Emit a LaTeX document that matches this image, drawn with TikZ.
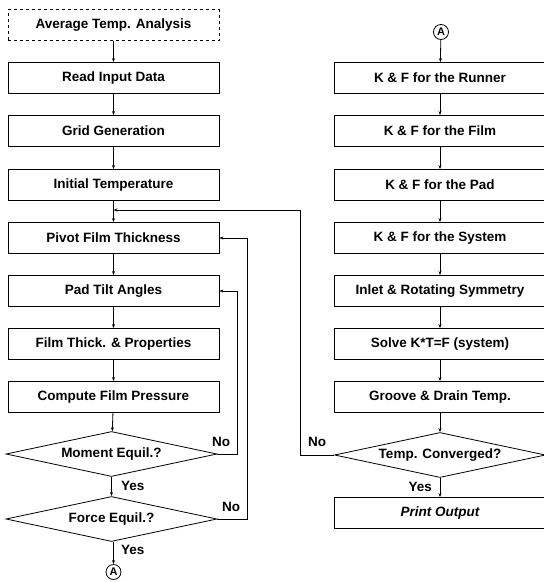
\documentclass[tikz,border=0pt]{standalone}
\usepackage{fontspec}
\setmainfont{Liberation Sans}
\usetikzlibrary{arrows.meta,positioning,shapes.geometric}

\begin{document}
\begin{tikzpicture}[x=1pt,y=-1pt,
    font=\fontsize{13.5}{16}\selectfont\bfseries,
    procbox/.style={draw, thick, minimum width=211pt, minimum height=31pt, inner sep=0pt},
    dashbox/.style={procbox, dashed},
    decision/.style={draw, thick, diamond, shape aspect=4.7, minimum width=211pt, minimum height=45pt, inner sep=0pt},
    connector/.style={draw, thick, circle, minimum size=15pt, inner sep=0pt, font=\fontsize{11}{12}\selectfont\bfseries},
    conn/.style={-{Stealth[length=4pt,width=3pt]}},
    lbl/.style={inner sep=0pt}]
    \useasboundingbox (0,0) rectangle (544,582);
    % left column
    \node[dashbox]  (avg)     at (113.5,25)  {Average Temp. Analysis};
    \node[procbox]  (read)    at (113.5,78)  {Read Input Data};
    \node[procbox]  (grid)    at (113.5,131) {Grid Generation};
    \node[procbox]  (init)    at (113.5,185) {Initial Temperature};
    \node[procbox]  (pivot)   at (113.5,238) {Pivot Film Thickness};
    \node[procbox]  (tilt)    at (113.5,291) {Pad Tilt Angles};
    \node[procbox]  (props)   at (113.5,344) {Film Thick. \& Properties};
    \node[procbox]  (press)   at (113.5,397) {Compute Film Pressure};
    \node[decision] (moment)  at (111.5,454) {Moment Equil.?};
    \node[decision] (force)   at (111.5,519) {Force Equil.?};
    \node[connector] (outA)   at (113.5,572) {A};
    \coordinate (join) at (113.5,210);
    % right column
    \node[connector] (inA)    at (441,32)    {A};
    \node[procbox]  (runner)  at (440,78)    {K \& F for the Runner};
    \node[procbox]  (film)    at (440,131)   {K \& F for the Film};
    \node[procbox]  (pad)     at (440,185)   {K \& F for the Pad};
    \node[procbox]  (system)  at (440,238)   {K \& F for the System};
    \node[procbox]  (inlet)   at (440,291)   {Inlet \& Rotating Symmetry};
    \node[procbox]  (solve)   at (440,344)   {Solve K*T=F (system)};
    \node[procbox]  (groove)  at (440,397)   {Groove \& Drain Temp.};
    \node[decision] (conv)    at (440,455)   {Temp. Converged?};
    \node[procbox]  (print)   at (440,513)   {\itshape Print Output};
    % flow
    \foreach \a/\b in {avg/read,read/grid,grid/init,init/pivot,pivot/tilt,tilt/props,props/press,press/moment,
                       inA/runner,runner/film,film/pad,pad/system,system/inlet,inlet/solve,solve/groove,groove/conv}
      \draw[conn, thick] (\a) -- (\b);
    \draw[conn, thick] (moment.south) -- (force.north -| moment.south);
    \draw[conn, thick] (force.south -| outA) -- (outA);
    \draw[conn, thick] (conv.south) -- (print);
    % loops
    \draw[conn, thick] (moment.east) -- ++(20,0) |- (tilt.east);
    \draw[conn, thick] (force.east) -- ++(30,0) |- (pivot.east);
    \draw[conn, thick] (conv.west) -- (300,455) |- (join);
    % labels
    \node[lbl, anchor=west] at (212,442) {No};
    \node[lbl, anchor=west] at (222,507) {No};
    \node[lbl, anchor=west] at (308,442) {No};
    \node[lbl, anchor=west] at (121,486) {Yes};
    \node[lbl, anchor=west] at (121,550) {Yes};
    \node[lbl, anchor=east] at (432,487) {Yes};
\end{tikzpicture}
\end{document}
